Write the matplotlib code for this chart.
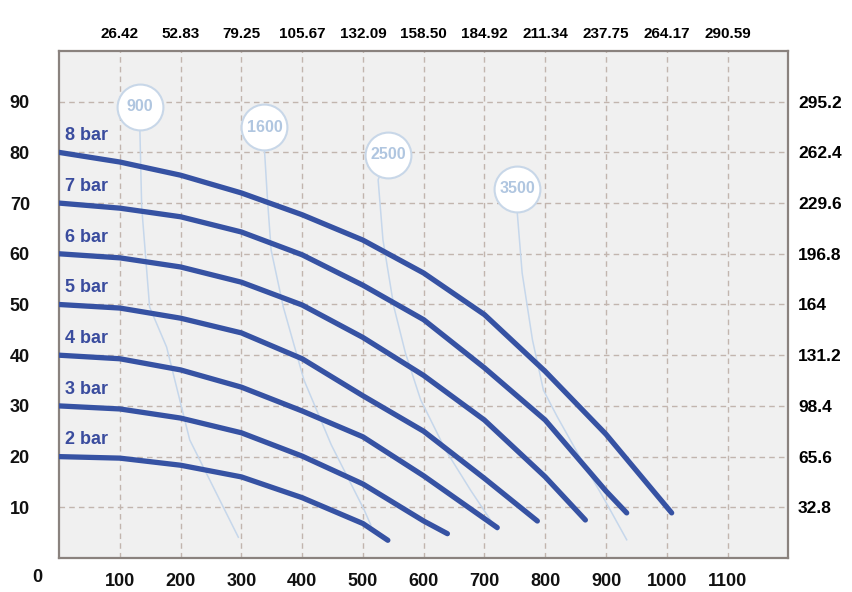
import matplotlib
matplotlib.use('Agg')
import matplotlib.pyplot as plt
import numpy as np

# pump curves: flow (l/min) vs head (m), one per air pressure
bar_labels = ['2 bar', '3 bar', '4 bar', '5 bar', '6 bar', '7 bar', '8 bar']
flow_2 = [0, 100, 200, 300, 400, 500, 541]
head_2 = [20.0, 19.7, 18.3, 16.0, 11.9, 6.8, 3.5]
flow_3 = [0, 100, 200, 300, 400, 500, 600, 639]
head_3 = [30.0, 29.4, 27.6, 24.7, 20.1, 14.6, 7.3, 4.8]
flow_4 = [0, 100, 200, 300, 400, 500, 600, 721]
head_4 = [40.0, 39.3, 37.1, 33.7, 29.0, 23.9, 16.2, 6.0]
flow_5 = [0, 100, 200, 300, 400, 500, 600, 700, 787]
head_5 = [50.0, 49.3, 47.3, 44.4, 39.3, 32.0, 25.0, 15.7, 7.3]
flow_6 = [0, 100, 200, 300, 400, 500, 600, 700, 800, 866]
head_6 = [60.0, 59.2, 57.4, 54.4, 49.9, 43.5, 36.0, 27.2, 16.0, 7.5]
flow_7 = [0, 100, 200, 300, 400, 500, 600, 700, 800, 900, 934]
head_7 = [70.0, 69.0, 67.3, 64.3, 59.8, 53.8, 47.0, 37.5, 27.2, 13.2, 8.9]
flow_8 = [0, 100, 200, 300, 400, 500, 600, 700, 800, 900, 1008]
head_8 = [80.0, 78.1, 75.5, 72.0, 67.7, 62.7, 56.2, 48.0, 36.8, 24.4, 8.9]

# speed lines (rpm) with their badge positions
rpm_labels = ['900', '1600', '2500', '3500']
rpm_badge_x = [133, 338, 541, 754]
rpm_badge_y = [89, 85, 79.5, 72.8]
rpm_flow_900 = [133, 136, 149, 177, 215, 295]
rpm_head_900 = [84.4, 69.2, 49.5, 41.6, 23.3, 4.1]
rpm_flow_1600 = [338, 343, 349, 369, 403, 448, 502, 513]
rpm_head_1600 = [80.5, 70.6, 60.7, 49.5, 35.1, 22.3, 9.5, 6.5]
rpm_flow_2500 = [525, 533, 551, 570, 595, 636, 677, 721]
rpm_head_2500 = [74.6, 62.7, 49.5, 40.4, 31.2, 21.3, 13.4, 5.5]
rpm_flow_3500 = [754, 762, 779, 797, 820, 857, 898, 934]
rpm_head_3500 = [68.0, 56.2, 43.0, 33.1, 27.8, 19.9, 11.4, 3.6]

x_ticks = [100, 200, 300, 400, 500, 600, 700, 800, 900, 1000, 1100]
gpm_labels = ['26.42', '52.83', '79.25', '105.67', '132.09', '158.50',
              '184.92', '211.34', '237.75', '264.17', '290.59']
y_ticks = [10, 20, 30, 40, 50, 60, 70, 80, 90]
ft_labels = ['32.8', '65.6', '98.4', '131.2', '164', '196.8', '229.6',
             '262.4', '295.2']

plt.rcParams['font.family'] = ['Liberation Sans', 'DejaVu Sans']
plt.rcParams['font.weight'] = 'bold'

fig = plt.figure(figsize=(8.52, 5.92), dpi=100)
ax = fig.add_axes([0.0693, 0.0574, 0.856, 0.8565])
ax.set_facecolor('#f0f0f0')
ax.set_xlim(0, 1200)
ax.set_ylim(0, 100)

curve_col = '#3652a3'
light_col = '#c6d7eb'

ax.set_xticks(x_ticks)
ax.set_yticks(y_ticks)
ax.grid(True, ls=(0, (4, 3)), color='#c2b5ae', lw=1.0, zorder=0)
ax.set_axisbelow(True)
ax.tick_params(length=0, labelsize=13, colors='#111111')
ax.tick_params(axis='x', pad=11)
ax.tick_params(axis='y', pad=21)
for lab in ax.get_xticklabels() + ax.get_yticklabels():
    lab.set_fontweight('bold')
for sp in ax.spines.values():
    sp.set_color('#8a827e')
    sp.set_linewidth(1.6)
ax.text(-0.03, -0.0375, '0', transform=ax.transAxes, ha='center', va='center',
        fontsize=13, fontweight='bold', color='#111111')

# speed lines
rpm_lines = [(rpm_flow_900, rpm_head_900), (rpm_flow_1600, rpm_head_1600),
             (rpm_flow_2500, rpm_head_2500), (rpm_flow_3500, rpm_head_3500)]
for (fx, hy), bx, by, lab in zip(rpm_lines, rpm_badge_x, rpm_badge_y, rpm_labels):
    ax.plot([bx] + fx, [by] + hy, color=light_col, lw=1.1, zorder=2)
    ax.plot(bx, by, marker='o', ms=33, mfc='white', mec='#c8d7e8', mew=1.5, zorder=3)
    ax.text(bx, by, lab, ha='center', va='center', fontsize=11.5,
            color='#b0c6e0', fontweight='bold', zorder=4)

# pressure curves
curves = [(flow_2, head_2), (flow_3, head_3), (flow_4, head_4), (flow_5, head_5),
          (flow_6, head_6), (flow_7, head_7), (flow_8, head_8)]
for (fx, hy), lab in zip(curves, bar_labels):
    ax.plot(fx, hy, color=curve_col, lw=3.8, solid_capstyle='round',
            solid_joinstyle='round', zorder=5)
    ax.text(10, hy[0] + 3.3, lab, ha='left', va='center', fontsize=13,
            fontweight='bold', color='#3a4c9e', zorder=6)

top = ax.secondary_xaxis('top')
top.set_xticks(x_ticks, gpm_labels)
top.tick_params(length=0, labelsize=11, pad=7)
for sp in top.spines.values():
    sp.set_visible(False)
for lab in top.get_xticklabels():
    lab.set_fontweight('bold')

right = ax.secondary_yaxis('right')
right.set_yticks(y_ticks, ft_labels)
right.tick_params(length=0, labelsize=12.5, pad=7)
for sp in right.spines.values():
    sp.set_visible(False)
for lab in right.get_yticklabels():
    lab.set_fontweight('bold')

fig.savefig('out.png', dpi=100)
